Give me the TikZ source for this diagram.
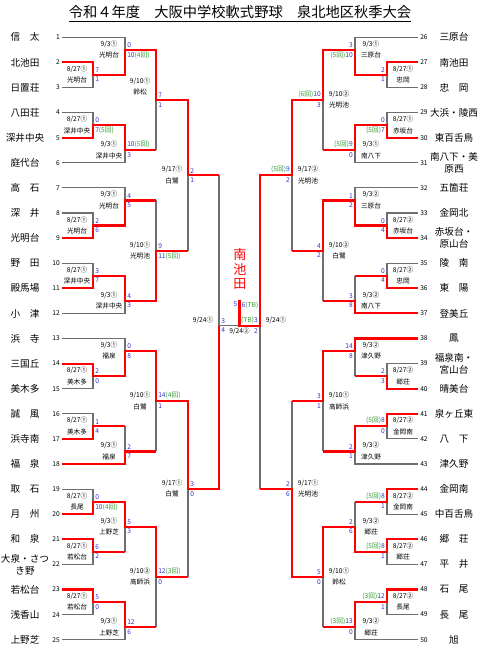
\documentclass[tikz,border=0pt]{standalone}
\usepackage{fontspec}
\setmainfont{Noto Sans CJK JP}
\definecolor{winred}{HTML}{FF0000}
\definecolor{losegray}{HTML}{6E6E6E}
\definecolor{scoreblue}{HTML}{3333CC}
\definecolor{inngreen}{HTML}{339933}
\newcommand{\innings}[1]{\textcolor{inngreen}{#1}}
% game labels: [shift]{point}{date}{venue}{top score}{bottom score}
\newcommand{\gameL}[6][0pt]{%
  \node[dt, anchor=south] (#2d) at ([xshift=-12pt, yshift=#1]#2) {#3};
  \node[dt, anchor=north] (#2v) at ([xshift=-12pt, yshift=#1]#2) {#4};
  \node[sc, anchor=south west] (#2t) at (#2) {#5};
  \node[sc, anchor=north west] (#2b) at (#2) {#6};
}
\newcommand{\gameR}[6][0pt]{%
  \node[dt, anchor=south] (#2d) at ([xshift=12pt, yshift=#1]#2) {#3};
  \node[dt, anchor=north] (#2v) at ([xshift=12pt, yshift=#1]#2) {#4};
  \node[sc, anchor=south east] (#2t) at (#2) {#5};
  \node[sc, anchor=north east] (#2b) at (#2) {#6};
}

\begin{document}
\begin{tikzpicture}[
    x=0.75pt, y=-9.4125pt,
    win/.style={draw=winred, line width=1.6pt, line join=miter},
    lose/.style={draw=losegray, line width=0.8pt},
    num/.style={font=\fontsize{5}{6}\selectfont, inner sep=1.5pt},
    tname/.style={font=\fontsize{7.2}{9}\selectfont, align=center, inner sep=0pt},
    dt/.style={font=\fontsize{5}{6}\selectfont, inner sep=1.5pt},
    sc/.style={font=\fontsize{5}{6}\selectfont, text=scoreblue, inner sep=1.5pt}
]
\fill[white] (0,-2.972) rectangle (480,50.016);
\path[use as bounding box] (0,-2.972) rectangle (480,50.016);

% Title
\node[font=\fontsize{10.7}{12}\selectfont, anchor=base] (title) at (240,-1.54)
    {\underline{令和４年度　大阪中学校軟式野球　泉北地区秋季大会}};

% Teams
\foreach \i/\name in {1/信　太, 2/北池田, 3/日置荘, 4/八田荘, 5/深井中央,
    6/庭代台, 7/高　石, 8/深　井, 9/光明台, 10/野　田, 11/殿馬場, 12/小　津,
    13/浜　寺, 14/三国丘, 15/美木多, 16/誠　風, 17/浜寺南, 18/福　泉,
    19/取　石, 20/月　州, 21/和　泉, 22/{大泉・さつ\\き野}, 23/若松台,
    24/浅香山, 25/上野芝} {
  \node[num, anchor=east] (n\i) at (62,{2*(\i-1)}) {\i};
  \node[tname] (t\i) at (25,{2*(\i-1)}) {\name};
}
\foreach \i/\name in {26/三原台, 27/南池田, 28/忠　岡, 29/大浜・陵西,
    30/東百舌鳥, 31/{南八下・美\\原西}, 32/五箇荘, 33/金岡北,
    34/{赤坂台・\\原山台}, 35/陵　南, 36/東　陽, 37/登美丘, 38/鳳,
    39/{福泉南・\\宮山台}, 40/晴美台, 41/泉ヶ丘東, 42/八　下, 43/津久野,
    44/金岡南, 45/中百舌鳥, 46/郷　荘, 47/平　井, 48/石　尾, 49/長　尾,
    50/旭} {
  \node[num, anchor=west] (n\i) at (418,{2*(\i-26)}) {\i};
  \node[tname] (t\i) at (454,{2*(\i-26)}) {\name};
}

% Game points
\coordinate (L1a) at (93,3);  \coordinate (L1b) at (93,7);
\coordinate (L1c) at (93,15); \coordinate (L1d) at (93,19);
\coordinate (L1e) at (93,27); \coordinate (L1f) at (93,31);
\coordinate (L1g) at (93,37); \coordinate (L1h) at (93,41);
\coordinate (L1i) at (93,45);
\coordinate (L2a) at (125,1);  \coordinate (L2b) at (125,9);
\coordinate (L2c) at (125,13); \coordinate (L2d) at (125,21);
\coordinate (L2e) at (125,25); \coordinate (L2f) at (125,33);
\coordinate (L2g) at (125,39); \coordinate (L2h) at (125,47);
\coordinate (L3a) at (156,5);  \coordinate (L3b) at (156,17);
\coordinate (L3c) at (156,29); \coordinate (L3d) at (156,43);
\coordinate (L4a) at (188,11); \coordinate (L4b) at (188,36);
\coordinate (SL) at (219,23);
\coordinate (F) at (239.5,23);
\coordinate (champ) at (239.5,20.93);
\coordinate (SR) at (260,23);
\coordinate (R4a) at (292,11); \coordinate (R4b) at (292,36);
\coordinate (R3a) at (323,5);  \coordinate (R3b) at (323,17);
\coordinate (R3c) at (323,29); \coordinate (R3d) at (323,43);
\coordinate (R2a) at (355,1);  \coordinate (R2b) at (355,9);
\coordinate (R2c) at (355,13); \coordinate (R2d) at (355,21);
\coordinate (R2e) at (355,25); \coordinate (R2f) at (355,33);
\coordinate (R2g) at (355,39); \coordinate (R2h) at (355,47);
\coordinate (R1a) at (387,3);  \coordinate (R1b) at (387,7);
\coordinate (R1c) at (387,15); \coordinate (R1d) at (387,19);
\coordinate (R1e) at (387,27); \coordinate (R1f) at (387,31);
\coordinate (R1g) at (387,37); \coordinate (R1h) at (387,41);
\coordinate (R1i) at (387,45);

% Losing lines, left
\draw[lose] (n1.east) -- (n1.east -| L2a) -- (L2a);
\draw[lose] (n3.east) -- (n3.east -| L1a) -- (L1a);
\draw[lose] (n4.east) -- (n4.east -| L1b) -- (L1b);
\draw[lose] (n6.east) -- (n6.east -| L2b) -- (L2b);
\draw[lose] (n7.east) -- (n7.east -| L2c) -- (L2c);
\draw[lose] (n8.east) -- (n8.east -| L1c) -- (L1c);
\draw[lose] (n10.east) -- (n10.east -| L1d) -- (L1d);
\draw[lose] (n12.east) -- (n12.east -| L2d) -- (L2d);
\draw[lose] (n13.east) -- (n13.east -| L2e) -- (L2e);
\draw[lose] (n15.east) -- (n15.east -| L1e) -- (L1e);
\draw[lose] (n16.east) -- (n16.east -| L1f) -- (L1f);
\draw[lose] (n19.east) -- (n19.east -| L1g) -- (L1g);
\draw[lose] (n22.east) -- (n22.east -| L1h) -- (L1h);
\draw[lose] (n24.east) -- (n24.east -| L1i) -- (L1i);
\draw[lose] (n25.east) -- (n25.east -| L2h) -- (L2h);
\draw[lose] (L2b -| L3a) -- (L3a);
\draw[lose] (L2c -| L3b) -- (L3b);
\draw[lose] (L1f -| L2f) -- (L2f);
\draw[lose] (L2f -| L3c) -- (L3c);
\draw[lose] (L1h -| L2g) -- (L2g);
\draw[lose] (L2h -| L3d) -- (L3d);
\draw[lose] (L3b -| L4a) -- (L4a);
\draw[lose] (L3d -| L4b) -- (L4b);
\draw[lose] (L4a -| SL) -- (SL);
\draw[lose] (SL) -- (F);

% Losing lines, right
\draw[lose] (n26.west) -- (n26.west -| R2a) -- (R2a);
\draw[lose] (n28.west) -- (n28.west -| R1a) -- (R1a);
\draw[lose] (n29.west) -- (n29.west -| R1b) -- (R1b);
\draw[lose] (n31.west) -- (n31.west -| R2b) -- (R2b);
\draw[lose] (n32.west) -- (n32.west -| R2c) -- (R2c);
\draw[lose] (n33.west) -- (n33.west -| R1c) -- (R1c);
\draw[lose] (n35.west) -- (n35.west -| R1d) -- (R1d);
\draw[lose] (n39.west) -- (n39.west -| R1e) -- (R1e);
\draw[lose] (n42.west) -- (n42.west -| R1f) -- (R1f);
\draw[lose] (n43.west) -- (n43.west -| R2f) -- (R2f);
\draw[lose] (n45.west) -- (n45.west -| R1g) -- (R1g);
\draw[lose] (n47.west) -- (n47.west -| R1h) -- (R1h);
\draw[lose] (n49.west) -- (n49.west -| R1i) -- (R1i);
\draw[lose] (n50.west) -- (n50.west -| R2h) -- (R2h);
\draw[lose] (R2b -| R3a) -- (R3a);
\draw[lose] (R3b -| R4a) -- (R4a);
\draw[lose] (R1d -| R2d) -- (R2d);
\draw[lose] (R2d -| R3b) -- (R3b);
\draw[lose] (R3c -| R4b) -- (R4b);
\draw[lose] (R1e -| R2e) -- (R2e);
\draw[lose] (R2f -| R3c) -- (R3c);
\draw[lose] (R1g -| R2g) -- (R2g);
\draw[lose] (R2h -| R3d) -- (R3d);
\draw[lose] (R4b -| SR) -- (SR);

% Winning runs, left
\draw[win] (n2.east) -- (n2.east -| L1a) -- (L1a) -- (L1a -| L2a) -- (L2a)
    -- (L2a -| L3a) -- (L3a) -- (L3a -| L4a) -- (L4a) -- (L4a -| SL);
\draw[win] (n5.east) -- (n5.east -| L1b) -- (L1b) -- (L1b -| L2b) -- (L2b) -- (L2b -| L3a);
\draw[win] (n9.east) -- (n9.east -| L1c) -- (L1c) -- (L1c -| L2c) -- (L2c) -- (L2c -| L3b);
\draw[win] (n11.east) -- (n11.east -| L1d) -- (L1d) -- (L1d -| L2d) -- (L2d)
    -- (L2d -| L3b) -- (L3b) -- (L3b -| L4a);
\draw[win] (n14.east) -- (n14.east -| L1e) -- (L1e) -- (L1e -| L2e) -- (L2e)
    -- (L2e -| L3c) -- (L3c) -- (L3c -| L4b) -- (L4b) -- (L4b -| SL) -- (SL);
\draw[win] (n17.east) -- (n17.east -| L1f) -- (L1f) -- (L1f -| L2f);
\draw[win] (n18.east) -- (n18.east -| L2f) -- (L2f) -- (L2f -| L3c);
\draw[win] (n20.east) -- (n20.east -| L1g) -- (L1g) -- (L1g -| L2g) -- (L2g)
    -- (L2g -| L3d) -- (L3d) -- (L3d -| L4b);
\draw[win] (n21.east) -- (n21.east -| L1h) -- (L1h) -- (L1h -| L2g);
\draw[win] (n23.east) -- (n23.east -| L1i) -- (L1i) -- (L1i -| L2h) -- (L2h) -- (L2h -| L3d);

% Winning runs, right
\draw[win] (n27.west) -- (n27.west -| R1a) -- (R1a) -- (R1a -| R2a) -- (R2a)
    -- (R2a -| R3a) -- (R3a) -- (R3a -| R4a) -- (R4a) -- (R4a -| SR) -- (SR)
    -- (F) -- (champ);
\draw[win] (n30.west) -- (n30.west -| R1b) -- (R1b) -- (R1b -| R2b) -- (R2b) -- (R2b -| R3a);
\draw[win] (n34.west) -- (n34.west -| R1c) -- (R1c) -- (R1c -| R2c) -- (R2c)
    -- (R2c -| R3b) -- (R3b) -- (R3b -| R4a);
\draw[win] (n36.west) -- (n36.west -| R1d) -- (R1d) -- (R1d -| R2d);
\draw[win] (n37.west) -- (n37.west -| R2d) -- (R2d) -- (R2d -| R3b);
\draw[win] (n38.west) -- (n38.west -| R2e) -- (R2e) -- (R2e -| R3c) -- (R3c) -- (R3c -| R4b);
\draw[win] (n40.west) -- (n40.west -| R1e) -- (R1e) -- (R1e -| R2e);
\draw[win] (n41.west) -- (n41.west -| R1f) -- (R1f) -- (R1f -| R2f) -- (R2f) -- (R2f -| R3c);
\draw[win] (n44.west) -- (n44.west -| R1g) -- (R1g) -- (R1g -| R2g);
\draw[win] (n46.west) -- (n46.west -| R1h) -- (R1h) -- (R1h -| R2g) -- (R2g)
    -- (R2g -| R3d) -- (R3d) -- (R3d -| R4b) -- (R4b) -- (R4b -| SR);
\draw[win] (n48.west) -- (n48.west -| R1i) -- (R1i) -- (R1i -| R2h) -- (R2h) -- (R2h -| R3d);

% Dates, venues and scores, left
\gameL{L1a}{8/27①}{光明台}{7}{1}
\gameL{L1b}{8/27①}{深井中央}{0}{7\innings{(5回)}}
\gameL{L1c}{8/27①}{光明台}{2}{6}
\gameL{L1d}{8/27①}{深井中央}{3}{7}
\gameL{L1e}{8/27①}{美木多}{2}{0}
\gameL{L1f}{8/27①}{美木多}{1}{4}
\gameL{L1g}{8/27①}{長尾}{0}{10\innings{(4回)}}
\gameL{L1h}{8/27①}{若松台}{6}{2}
\gameL{L1i}{8/27①}{若松台}{5}{0}
\gameL{L2a}{9/3①}{光明台}{0}{10\innings{(4回)}}
\gameL{L2b}{9/3①}{深井中央}{10\innings{(5回)}}{3}
\gameL{L2c}{9/3①}{光明台}{4}{5}
\gameL{L2d}{9/3①}{深井中央}{4}{3}
\gameL{L2e}{9/3①}{福泉}{0}{8}
\gameL{L2f}{9/3①}{福泉}{2}{7}
\gameL{L2g}{9/3①}{上野芝}{5}{3}
\gameL{L2h}{9/3①}{上野芝}{12}{6}
\gameL[9.75pt]{L3a}{9/10①}{鈴松}{7}{1}
\gameL{L3b}{9/10①}{光明池}{9}{11\innings{(5回)}}
\gameL{L3c}{9/10①}{白鷺}{14\innings{(4回)}}{1}
\gameL{L3d}{9/10②}{高師浜}{12\innings{(3回)}}{0}
\gameL{L4a}{9/17①}{白鷺}{2}{1}
\gameL{L4b}{9/17①}{白鷺}{3}{0}
\gameL{SL}{9/24①}{}{3}{4}

% Dates, venues and scores, right
\gameR{R1a}{8/27①}{忠岡}{2}{1}
\gameR{R1b}{8/27①}{赤坂台}{0}{\innings{(5回)}7}
\gameR{R1c}{8/27②}{赤坂台}{0}{4}
\gameR{R1d}{8/27②}{忠岡}{0}{4}
\gameR{R1e}{8/27②}{郷荘}{2}{3}
\gameR{R1f}{8/27②}{金岡南}{\innings{(5回)}8}{0}
\gameR{R1g}{8/27②}{金岡南}{\innings{(5回)}8}{1}
\gameR{R1h}{8/27②}{郷荘}{\innings{(5回)}8}{1}
\gameR{R1i}{8/27②}{長尾}{\innings{(3回)}12}{1}
\gameR{R2a}{9/3①}{三原台}{3}{\innings{(5回)}10}
\gameR{R2b}{9/3①}{南八下}{\innings{(5回)}9}{0}
\gameR{R2c}{9/3②}{三原台}{1}{2}
\gameR{R2d}{9/3②}{南八下}{3}{8}
\gameR{R2e}{9/3②}{津久野}{14}{8}
\gameR{R2f}{9/3②}{津久野}{2}{1}
\gameR{R2g}{9/3②}{郷荘}{2}{6}
\gameR{R2h}{9/3②}{郷荘}{\innings{(3回)}13}{0}
\gameR{R3a}{9/10②}{光明池}{\innings{(6回)}10}{3}
\gameR{R3b}{9/10②}{白鷺}{4}{2}
\gameR{R3c}{9/10①}{高師浜}{3}{1}
\gameR{R3d}{9/10①}{鈴松}{5}{0}
\gameR{R4a}{9/17②}{光明池}{\innings{(5回)}9}{2}
\gameR{R4b}{9/17①}{光明池}{2}{6}
\gameR{SR}{9/24①}{}{\innings{(TB)}3}{2}

% Final
\node[sc, anchor=north east] (Fl) at (champ) {5};
\node[sc, anchor=north west] (Fr) at (champ) {6\innings{(TB)}};
\node[dt, anchor=north] (Fd) at (F) {9/24②};
\node[font=\fontsize{9.8}{10.6}\selectfont, text=winred, align=center, inner sep=0pt]
    (winner) at (240,18.46) {南\\池\\田};

\end{tikzpicture}
\end{document}
